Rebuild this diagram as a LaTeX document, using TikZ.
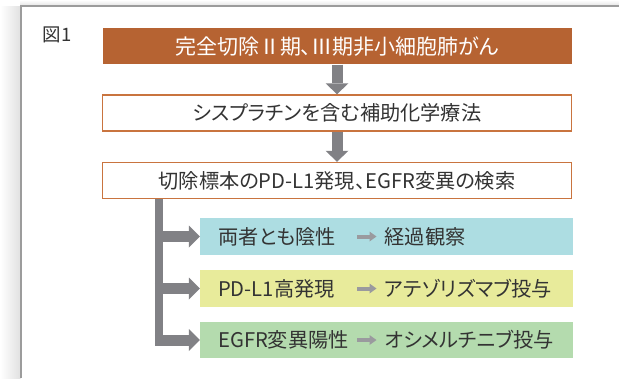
\documentclass[tikz,border=0pt]{standalone}
\usepackage{fontspec}
\setmainfont[RawFeature=+palt]{Noto Sans CJK JP}
\usetikzlibrary{arrows.meta}
\definecolor{brownbox}{HTML}{B66332}
\definecolor{boxline}{HTML}{C9743F}
\definecolor{cyanbox}{HTML}{ADDDE2}
\definecolor{yellowbox}{HTML}{E8EB9B}
\definecolor{greenbox}{HTML}{B4DBAE}
\definecolor{arrowgray}{HTML}{818185}
\definecolor{smallgray}{HTML}{9A9A9E}
\definecolor{txt}{HTML}{333333}
\definecolor{framegray}{HTML}{9C9C9C}
\begin{document}
\begin{tikzpicture}[x=1pt,y=-1pt,
  basefont/.style={font=\fontsize{20.2}{23}\selectfont},
  mainbox/.style={basefont, minimum width=469pt, minimum height=36pt, inner sep=0pt, text=txt},
  whitebox/.style={mainbox, draw=boxline, line width=1.5pt, fill=white},
  brownstyle/.style={mainbox, fill=brownbox, text=white, font=\fontsize{21}{24}\selectfont},
  colbox/.style={minimum width=373pt, minimum height=37pt, inner sep=0pt},
  rowtext/.style={basefont, text=txt, inner sep=0pt, anchor=west},
  bigarrow/.style={draw=arrowgray, line width=11pt, -{Triangle[length=11pt,width=23pt,line width=0pt]}},
  armarrow/.style={draw=arrowgray, line width=11pt, -{Triangle[length=11pt,width=22pt,line width=0pt]}},
  smallarrow/.style={draw=smallgray, line width=4pt, -{Triangle[length=7pt,width=10pt,line width=0pt]}}
]
\useasboundingbox (0,0) rectangle (619,378);
\fill[white] (0,0) rectangle (619,378);
% frame shadow and frame
\shade[left color=white, right color=black!12] (0,6) rectangle (20.5,378);
\shade[top color=white, bottom color=black!10] (20.5,0) rectangle (619,5.5);
\draw[framegray, line width=1.5pt] (21.2,378) -- (21.2,6) -- (619,6);

\node[font=\fontsize{18.5}{20}\selectfont, text=txt, anchor=west, inner sep=0pt] (fig) at (42.5,35) {図1};

\node[brownstyle] (b1) at (337,46.3) {完全切除Ⅱ期、Ⅲ期非小細胞肺がん};
\node[whitebox] (b2) at (337,113) {シスプラチンを含む補助化学療法};
\node[whitebox] (b3) at (337,180.5) {切除標本のPD-L1発現、EGFR変異の検索};

\node[colbox, fill=cyanbox] (c1) at (386.5,236.5) {};
\node[colbox, fill=yellowbox] (c2) at (386.5,288.5) {};
\node[colbox, fill=greenbox, minimum height=36pt] (c3) at (386.5,340) {};

\draw[bigarrow] (b1.south) -- (b2.north);
\draw[bigarrow] (b2.south) -- (b3.north);

\coordinate (bx) at (159,0);
\coordinate (bl) at (154.75,0);
\coordinate (bend) at (159,345.5);
\draw[arrowgray, line width=8.5pt] (bx |- b3.south) -- (bend);
\draw[armarrow] (bl |- c1.west) -- (c1.west);
\draw[armarrow] (bl |- c2.west) -- (c2.west);
\draw[armarrow] (bl |- c3.west) -- (c3.west);

\node[rowtext] (l1) at (218,236.5) {両者とも陰性};
\node[rowtext] (r1) at (384.5,236.5) {経過観察};
\node[rowtext] (l2) at (218,288.5) {PD-L1高発現};
\node[rowtext] (r2) at (384.5,288.5) {アテゾリズマブ投与};
\node[rowtext] (l3) at (218,340) {EGFR変異陽性};
\node[rowtext] (r3) at (384.5,340) {オシメルチニブ投与};

\coordinate (s1) at (357,236.5);
\coordinate (s2) at (357,288.5);
\coordinate (s3) at (357,340);
\draw[smallarrow] (s1) -- ([xshift=-8pt]r1.west);
\draw[smallarrow] (s2) -- ([xshift=-8pt]r2.west);
\draw[smallarrow] (s3) -- ([xshift=-8pt]r3.west);
\end{tikzpicture}
\end{document}
